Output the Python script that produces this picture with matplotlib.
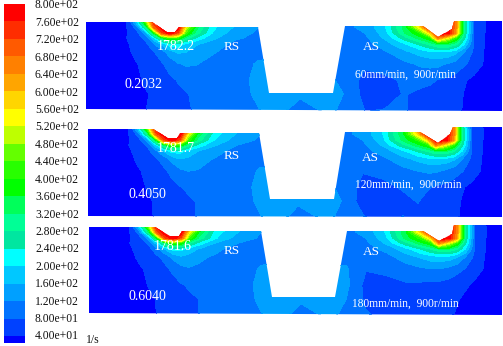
import matplotlib
matplotlib.use("Agg")
import matplotlib.pyplot as plt
from matplotlib.colors import BoundaryNorm, ListedColormap
from matplotlib.patches import Polygon, Rectangle
import numpy as np

plt.rcParams['font.family'] = ['Liberation Serif', 'DejaVu Serif']

# colour bands, lowest first
levels = [0, 40, 80, 120, 160, 200, 240, 280, 320, 360, 400, 440, 480, 520, 560, 600, 640, 680, 720, 760, 800]
band_colors = ['#0000ff', '#0041ff', '#0073ff', '#00a0ff', '#00c8ff', '#00ffff', '#00e6a0', '#00ff96', '#00ff5a',
               '#00ff00', '#28ff00', '#64ff00', '#beff00', '#ffff00', '#ffd500', '#ffa500', '#ff8000', '#ff5a00',
               '#ff2d00', '#ff0000']
tick_labels = ['8.00e+02', '7.60e+02', '7.20e+02', '6.80e+02', '6.40e+02', '6.00e+02', '5.60e+02', '5.20e+02',
               '4.80e+02', '4.40e+02', '4.00e+02', '3.60e+02', '3.20e+02', '2.80e+02', '2.40e+02', '2.00e+02',
               '1.60e+02', '1.20e+02', '8.00e+01', '4.00e+01']

# sample stations across the section and depth below the top line
stations = [86, 126, 136, 146, 154, 162, 170, 178, 186, 196, 212, 235, 258, 275, 300, 330, 345, 365, 385, 405, 420,
            430, 438, 448, 456, 464, 474, 486, 503]
depths = [-3, 5, 11, 16, 22, 30, 42, 58, 72, 90]

# strain rate, 1/s, one row per depth
rate_60 = [
    [20, 38, 210, 520, 800, 800, 800, 800, 800, 560, 260, 170, 120, 100, 100, 100, 110, 130, 190, 330, 700, 800, 800, 800, 650, 270, 75, 35, 25],
    [20, 35, 90, 300, 680, 800, 800, 800, 520, 340, 210, 155, 120, 100, 100, 100, 110, 130, 195, 340, 560, 800, 800, 800, 640, 290, 75, 38, 25],
    [20, 34, 60, 140, 360, 700, 790, 700, 420, 300, 200, 135, 115, 100, 100, 100, 105, 120, 180, 320, 400, 560, 790, 790, 620, 280, 75, 36, 25],
    [20, 38, 60, 90, 190, 330, 420, 400, 300, 230, 170, 125, 110, 100, 100, 100, 105, 110, 165, 260, 340, 390, 650, 520, 400, 250, 75, 35, 24],
    [18, 35, 50, 70, 115, 170, 220, 220, 190, 165, 140, 110, 105, 105, 100, 105, 100, 105, 140, 195, 250, 290, 330, 330, 290, 200, 75, 34, 22],
    [18, 33, 46, 58, 78, 100, 140, 165, 160, 140, 125, 100, 105, 115, 100, 110, 100, 95, 115, 150, 175, 190, 195, 190, 170, 120, 70, 32, 20],
    [18, 27, 38, 48, 62, 76, 95, 115, 125, 122, 105, 95, 125, 125, 105, 120, 95, 85, 95, 110, 125, 130, 130, 115, 100, 85, 65, 30, 18],
    [15, 24, 34, 44, 52, 62, 72, 82, 88, 88, 85, 95, 135, 130, 120, 130, 100, 70, 72, 85, 95, 88, 78, 72, 65, 45, 28, 22, 15],
    [15, 22, 30, 38, 43, 50, 60, 72, 78, 85, 85, 95, 130, 150, 130, 155, 115, 65, 70, 82, 70, 65, 62, 60, 55, 38, 25, 20, 12],
    [12, 20, 26, 40, 42, 45, 50, 62, 72, 85, 85, 95, 115, 140, 90, 130, 100, 80, 82, 82, 70, 65, 62, 60, 50, 35, 25, 18, 12],
]
rate_120 = [
    [20, 38, 215, 530, 800, 800, 800, 800, 800, 570, 270, 170, 120, 100, 100, 100, 110, 130, 195, 340, 710, 800, 800, 800, 650, 270, 75, 35, 25],
    [20, 35, 90, 310, 690, 800, 800, 800, 530, 345, 215, 155, 120, 100, 100, 100, 110, 130, 200, 350, 570, 800, 800, 800, 640, 290, 75, 38, 25],
    [20, 34, 60, 140, 365, 705, 790, 700, 425, 300, 200, 135, 115, 100, 100, 100, 105, 120, 185, 330, 410, 565, 790, 790, 620, 280, 75, 36, 25],
    [20, 38, 58, 88, 185, 320, 410, 390, 295, 225, 165, 120, 110, 100, 100, 100, 105, 110, 165, 265, 345, 395, 650, 520, 400, 250, 75, 35, 24],
    [18, 35, 48, 68, 110, 165, 215, 215, 185, 160, 135, 105, 105, 105, 100, 105, 100, 105, 135, 190, 245, 285, 325, 325, 285, 200, 75, 34, 22],
    [18, 32, 44, 55, 74, 95, 132, 158, 152, 132, 118, 95, 105, 115, 100, 110, 100, 92, 110, 145, 170, 185, 190, 185, 165, 120, 68, 32, 20],
    [18, 27, 37, 46, 58, 72, 90, 110, 120, 118, 102, 92, 125, 125, 105, 120, 100, 82, 90, 105, 120, 125, 125, 110, 95, 82, 62, 30, 18],
    [15, 24, 33, 42, 50, 58, 68, 78, 85, 86, 84, 92, 135, 130, 120, 130, 105, 68, 70, 84, 90, 84, 75, 70, 62, 44, 28, 22, 15],
    [15, 22, 30, 37, 42, 48, 58, 68, 75, 82, 84, 92, 130, 150, 130, 155, 115, 60, 62, 70, 82, 64, 60, 58, 52, 37, 25, 20, 12],
    [12, 20, 26, 38, 41, 44, 48, 60, 70, 82, 84, 92, 115, 140, 90, 130, 100, 85, 70, 82, 66, 62, 60, 56, 48, 34, 25, 18, 12],
]
rate_180 = [
    [20, 38, 220, 540, 800, 800, 800, 800, 800, 580, 280, 175, 120, 100, 100, 100, 110, 130, 200, 350, 720, 800, 800, 800, 650, 275, 75, 35, 25],
    [20, 35, 92, 320, 700, 800, 800, 800, 540, 350, 220, 160, 120, 100, 100, 100, 110, 130, 205, 355, 580, 800, 800, 800, 640, 290, 75, 38, 25],
    [20, 34, 60, 140, 370, 710, 790, 700, 430, 305, 205, 138, 115, 100, 100, 100, 105, 120, 190, 335, 415, 570, 790, 790, 620, 280, 75, 36, 25],
    [20, 38, 58, 86, 180, 315, 400, 385, 290, 220, 160, 120, 110, 100, 100, 100, 105, 110, 165, 265, 345, 395, 650, 520, 400, 250, 75, 35, 24],
    [18, 35, 48, 66, 105, 160, 210, 210, 180, 155, 130, 102, 105, 105, 100, 105, 100, 105, 130, 185, 240, 280, 320, 320, 280, 200, 75, 34, 22],
    [18, 32, 44, 54, 72, 92, 128, 152, 146, 128, 114, 92, 105, 115, 100, 112, 105, 90, 105, 140, 165, 180, 185, 180, 160, 120, 66, 32, 20],
    [18, 27, 36, 45, 56, 70, 88, 105, 115, 112, 100, 90, 125, 130, 105, 125, 125, 82, 88, 100, 112, 118, 118, 105, 90, 78, 58, 30, 18],
    [15, 24, 33, 41, 48, 56, 65, 76, 84, 84, 82, 90, 135, 135, 120, 135, 130, 66, 68, 75, 72, 70, 68, 64, 58, 48, 30, 22, 15],
    [15, 22, 30, 36, 41, 47, 55, 66, 74, 80, 82, 90, 130, 150, 130, 155, 120, 72, 62, 60, 60, 58, 56, 52, 44, 30, 24, 20, 12],
    [12, 20, 26, 36, 40, 43, 47, 58, 68, 80, 82, 90, 115, 140, 90, 130, 100, 85, 70, 65, 60, 55, 52, 44, 34, 28, 24, 18, 12],
]
rates = [rate_60, rate_120, rate_180]

# left and right half of each section sit slightly differently
shift_left = [0, 2, 3]
shift_right = [0, -2, 1]
panel_top = [22, 129, 227]

# section outlines, read per panel
outline_x = [
    [86, 152, 167, 175, 179, 258, 269, 333, 345, 423, 438, 452, 454, 502, 502, 86],
    [88, 153, 168, 177, 180, 259, 270, 334, 345, 420, 438, 450, 453, 502, 502, 88],
    [89, 155, 170, 179, 182, 261, 272, 335, 347, 423, 439, 452, 454, 502, 502, 89],
]
outline_y = [
    [22, 22, 32, 32, 27, 27, 93, 93, 26, 26, 37, 29, 21, 21, 111, 109],
    [129, 129, 138, 138, 133, 133, 199, 199, 132, 132, 143, 134, 127, 127, 217, 216],
    [227, 227, 236, 236, 231, 231, 297, 297, 231, 231, 241, 234, 225, 225, 315, 313],
]

peak_labels = ['1782.2', '1781.7', '1781.6']
peak_xy = [(176, 47), (176, 149), (173, 247)]
min_labels = ['0.2032', '0.4050', '0.6040']
min_xy = [(144, 84), (147, 194), (147, 296)]
rs_xy = [(232, 47), (232, 156), (232, 251)]
as_xy = [(371, 47), (370, 158), (371, 252)]
speed_labels = ['60mm/min,  900r/min', '120mm/min,  900r/min', '180mm/min,  900r/min']
speed_xy = [(406, 75), (408, 185), (405, 304)]

fig = plt.figure(figsize=(5.03, 3.46), dpi=100)
ax = fig.add_axes([0, 0, 1, 1])
ax.set_xlim(0, 503)
ax.set_ylim(346, 0)
ax.axis('off')

cmap = ListedColormap(band_colors)
norm = BoundaryNorm(levels, cmap.N)

for i in range(3):
    xx = np.array(stations, dtype=float)
    xx[xx < 300] += shift_left[i]
    xx[(xx >= 300) & (xx < 503)] += shift_right[i]
    yy = np.array(depths) + panel_top[i]
    cs = ax.contourf(xx, yy, np.array(rates[i]), levels=levels, cmap=cmap, norm=norm)
    clip = Polygon(np.column_stack([outline_x[i], outline_y[i]]), transform=ax.transData,
                   facecolor='none', edgecolor='none')
    ax.add_patch(clip)
    cs.set_clip_path(clip)
    cs.set_edgecolor('face')
    cs.set_linewidth(0.3)

    ax.text(peak_xy[i][0], peak_xy[i][1], peak_labels[i], color='white', fontsize=10, ha='center', va='center')
    ax.text(min_xy[i][0], min_xy[i][1], min_labels[i], color='white', fontsize=10, ha='center', va='center')
    ax.text(rs_xy[i][0], rs_xy[i][1], 'RS', color='white', fontsize=9.5, ha='center', va='center')
    ax.text(as_xy[i][0], as_xy[i][1], 'AS', color='white', fontsize=9.5, ha='center', va='center')
    ax.text(speed_xy[i][0], speed_xy[i][1], speed_labels[i], color='white', fontsize=8.3, ha='center', va='center')

# legend strip, bottom band is cut short like in the solver output
bar_left, bar_w = 4, 21
bar_top, bar_step = 3.6, 17.5
for k in range(20):
    y0 = bar_top + k * bar_step
    h = bar_step if k < 19 else 6.5
    ax.add_patch(Rectangle((bar_left, y0), bar_w, h, facecolor=band_colors[19 - k], edgecolor='none'))
    ax.text(35, 5.5 + k * 17.42, tick_labels[k], color='#111111', fontsize=8.4, ha='left', va='center')

ax.text(86, 340, '1/s', color='#111111', fontsize=8.4, ha='left', va='center')

fig.savefig('out.png', dpi=100)
